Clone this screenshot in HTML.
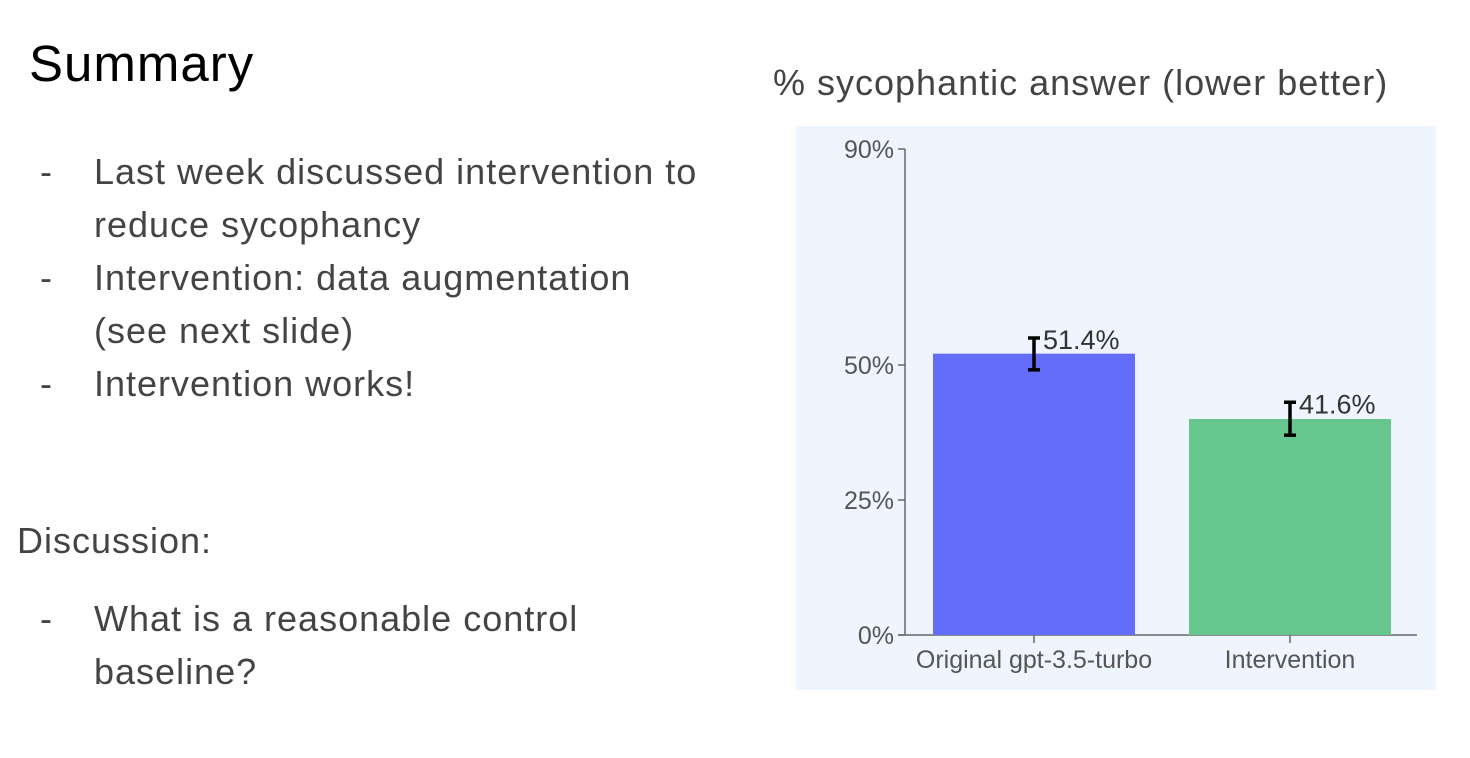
<!DOCTYPE html>
<html><head><meta charset="utf-8"><style>
body{margin:0;width:1470px;height:758px;background:#fff;font-family:"Liberation Sans",sans-serif;position:relative;overflow:hidden}
.t{position:absolute;white-space:nowrap;color:#444}
.b{font-size:36px;letter-spacing:1px}
</style></head><body>
<div class="t" style="left:29px;top:34px;font-size:51px;letter-spacing:1px;color:#000">Summary</div>
<div>
<div class="t b" style="left:40px;top:151px">-</div>
<div class="t b" style="left:94px;top:151px">Last week discussed intervention to</div>
<div class="t b" style="left:94px;top:204px">reduce sycophancy</div>
<div class="t b" style="left:40px;top:257px">-</div>
<div class="t b" style="left:94px;top:257px">Intervention: data augmentation</div>
<div class="t b" style="left:94px;top:310px">(see next slide)</div>
<div class="t b" style="left:40px;top:363px">-</div>
<div class="t b" style="left:94px;top:363px">Intervention works!</div>
</div>
<div class="t b" style="left:17px;top:520px">Discussion:</div>
<div class="t b" style="left:40px;top:598px">-</div>
<div class="t b" style="left:94px;top:598px">What is a reasonable control</div>
<div class="t b" style="left:94px;top:651px">baseline?</div>
<div class="t b" style="left:773px;top:62px">% sycophantic answer (lower better)</div>
<svg id="chart" style="position:absolute;left:0;top:0" width="1470" height="758"></svg>
<script>
const categories=["Original gpt-3.5-turbo","Intervention"];
const values=[52.1,40.0];
const valueLabels=["51.4%","41.6%"];
const errLow=[49.1,37.0];
const errHigh=[55.0,43.1];
const tickValues=[0,25,50,90];
const tickLabels=["0%","25%","50%","90%"];
const colors=["#646cfa","#66c68e"];
const NS="http://www.w3.org/2000/svg";
const svg=document.getElementById('chart');
function mk(tag,attrs,name){const e=document.createElementNS(NS,tag);for(const k in attrs)e.setAttribute(k,attrs[k]);


svg.appendChild(e);return e;}
const y0=635,pxPer=5.4;
const y=v=>y0-v*pxPer;
const xc=i=>1034+i*256;
mk('rect',{x:796,y:126,width:640,height:564,fill:'#eef5fe'},'plot-background');
mk('line',{x1:905,y1:y(90),x2:905,y2:y0,stroke:'#666','stroke-width':1.5},'y-axis');
mk('line',{x1:898,y1:y0,x2:1417,y2:y0,stroke:'#666','stroke-width':1.5},'x-axis');
tickValues.forEach((v,i)=>{
mk('line',{x1:898,y1:y(v),x2:905,y2:y(v),stroke:'#666','stroke-width':1.5},'y-tick');
const t=mk('text',{x:894,y:y(v)+9,'text-anchor':'end','font-size':25,fill:'#555'},'y-tick-label');t.textContent=tickLabels[i];
});
categories.forEach((c,i)=>{
const x=xc(i);
mk('rect',{x:x-101,y:y(values[i]),width:202,height:values[i]*pxPer,fill:colors[i]},'bar-'+i);
mk('line',{x1:x,y1:y0,x2:x,y2:y0+8,stroke:'#666','stroke-width':1.5},'x-tick');
const t=mk('text',{x:x,y:668,'text-anchor':'middle','font-size':25,fill:'#555'},'x-tick-label');t.textContent=c;
mk('line',{x1:x,y1:y(errHigh[i]),x2:x,y2:y(errLow[i]),stroke:'#000','stroke-width':3.5},'error-bar');
mk('line',{x1:x-6,y1:y(errHigh[i]),x2:x+6,y2:y(errHigh[i]),stroke:'#000','stroke-width':3.5},'error-cap-top');
mk('line',{x1:x-6,y1:y(errLow[i]),x2:x+6,y2:y(errLow[i]),stroke:'#000','stroke-width':3.5},'error-cap-bottom');
const l=mk('text',{x:x+9,y:y(errHigh[i])+11,'font-size':27,fill:'#333'},'value-label');l.textContent=valueLabels[i];
});
</script>
</body></html>
